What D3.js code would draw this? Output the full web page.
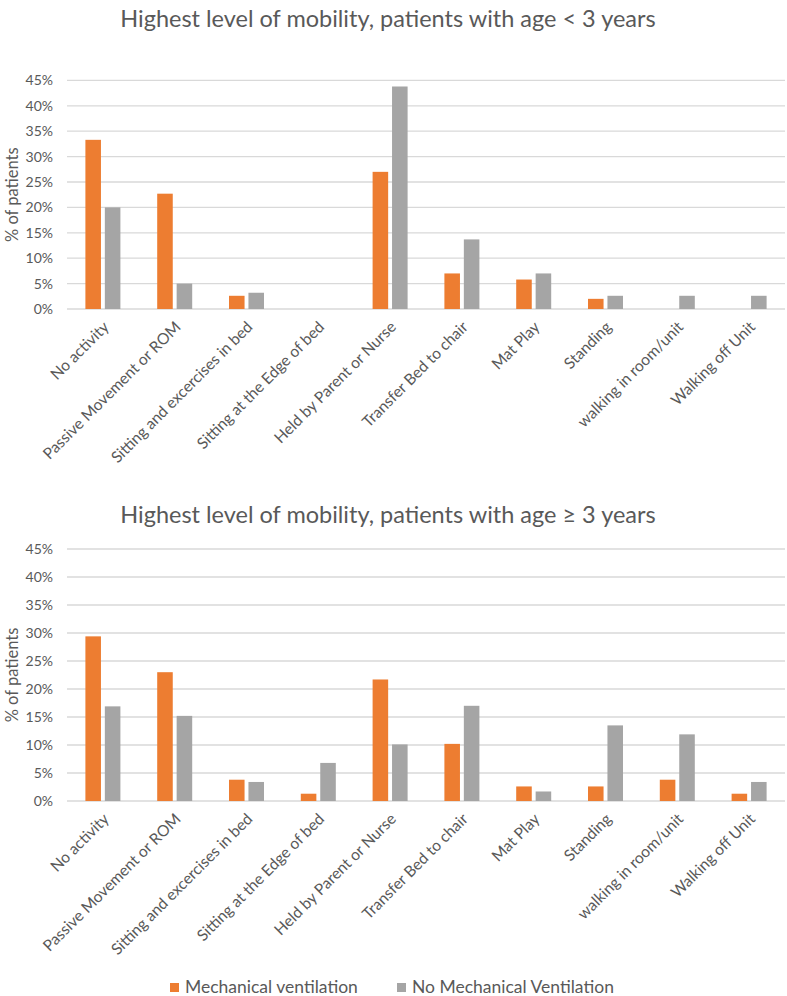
<!DOCTYPE html>
<html>
<head>
<meta charset="utf-8">
<script src="https://cdn.jsdelivr.net/npm/d3@7"></script>
<style>
  body { margin: 0; background: #fff; }
  svg text { font-family: Lato, "Open Sans", sans-serif; fill: #595959; }
</style>
</head>
<body>
<div id="chart"></div>
<script>
// mobility charts, two age groups

const width = 787;
const height = 996;

const categories = [
  'No activity',
  'Passive Movement or ROM',
  'Sitting and excercises in bed',
  'Sitting at the Edge of bed',
  'Held by Parent or Nurse',
  'Transfer Bed to chair',
  'Mat Play',
  'Standing',
  'walking in room/unit',
  'Walking off Unit'
];
const seriesNames = ['Mechanical ventilation', 'No Mechanical Ventilation'];

// % of patients, age < 3 years
const under3Vent = [33.3, 22.7, 2.6, 0, 27.0, 7.0, 5.8, 2.0, 0, 0];
const under3NoVent = [20.0, 5.0, 3.2, 0, 43.8, 13.7, 7.0, 2.6, 2.6, 2.6];

// % of patients, age >= 3 years
const over3Vent = [29.4, 23.0, 3.8, 1.3, 21.7, 10.2, 2.6, 2.6, 3.8, 1.3];
const over3NoVent = [16.9, 15.2, 3.4, 6.8, 10.1, 17.0, 1.7, 13.5, 11.9, 3.4];

const yTicks = [0, 5, 10, 15, 20, 25, 30, 35, 40, 45];

const colors = { 'Mechanical ventilation': '#ED7D31', 'No Mechanical Ventilation': '#A5A5A5' };

const svg = d3.select('#chart')
  .append('svg')
  .attr('width', width)
  .attr('height', height);

const plotLeft = 67;
const plotRight = 785;

function drawChart(title, vent, noVent, titleY, top, bottom) {
  const g = svg.append('g');

  const x0 = d3.scaleBand()
    .domain(categories)
    .range([plotLeft, plotRight])
    .padding(0);

  const bw = x0.bandwidth();
  const x1 = d3.scaleBand()
    .domain(seriesNames)
    .range([bw / 2 - 17.5, bw / 2 + 17.5])
    .paddingInner(0.2);

  const y = d3.scaleLinear()
    .domain([0, 45])
    .range([bottom, top]);

  g.append('text')
    .attr('x', 388)
    .attr('y', titleY)
    .attr('text-anchor', 'middle')
    .attr('font-size', 23.5)
    .text(title);

  // gridlines
  g.selectAll('line.grid')
    .data(yTicks)
    .enter().append('line')
    .attr('class', 'grid')
    .attr('x1', plotLeft)
    .attr('x2', plotRight)
    .attr('y1', d => y(d))
    .attr('y2', d => y(d))
    .attr('stroke', '#D9D9D9')
    .attr('stroke-width', 1.3);

  // y axis labels
  const yAxis = d3.axisLeft(y)
    .tickValues(yTicks)
    .tickSize(0)
    .tickPadding(0)
    .tickFormat(d => d + '%');
  const ya = g.append('g')
    .attr('transform', `translate(${plotLeft - 14},0)`)
    .call(yAxis);
  ya.select('.domain').remove();
  ya.selectAll('text')
    .attr('font-size', 14)
    .attr('fill', '#595959')
    .style('font-family', 'Lato, sans-serif');

  g.append('text')
    .attr('transform', `translate(18,${(top + bottom) / 2}) rotate(-90)`)
    .attr('text-anchor', 'middle')
    .attr('font-size', 16.5)
    .text('% of patients');

  const rows = categories.map((c, i) => ({ cat: c, values: [vent[i], noVent[i]] }));

  const groups = g.selectAll('g.cat')
    .data(rows)
    .enter().append('g')
    .attr('class', 'cat')
    .attr('transform', d => `translate(${x0(d.cat)},0)`);

  groups.selectAll('rect')
    .data(d => d.values.map((v, j) => ({ key: seriesNames[j], value: v })))
    .enter().append('rect')
    .filter(d => d.value > 0)
    .attr('x', d => x1(d.key))
    .attr('width', x1.bandwidth())
    .attr('y', d => y(d.value))
    .attr('height', d => y(0) - y(d.value))
    .attr('fill', d => colors[d.key]);

  // category labels, rotated
  g.selectAll('text.cat')
    .data(categories)
    .enter().append('text')
    .attr('class', 'cat')
    .attr('text-anchor', 'end')
    .attr('font-size', 15.6)
    .attr('transform', d => `translate(${x0(d) + bw / 2 + 7},${bottom + 19}) rotate(-45)`)
    .text(d => d);
}

drawChart('Highest level of mobility, patients with age < 3 years',
  under3Vent, under3NoVent, 27, 80.4, 309);
drawChart('Highest level of mobility, patients with age \u2265 3 years',
  over3Vent, over3NoVent, 523, 549, 801);

// legend
const legend = svg.append('g');
const legendX = [170, 397];
seriesNames.forEach((name, i) => {
  legend.append('rect')
    .attr('x', legendX[i])
    .attr('y', 983)
    .attr('width', 9)
    .attr('height', 9)
    .attr('fill', colors[name]);
  legend.append('text')
    .attr('x', legendX[i] + 15)
    .attr('y', 993)
    .attr('font-size', 17.5)
    .text(name);
});
</script>
</body>
</html>
